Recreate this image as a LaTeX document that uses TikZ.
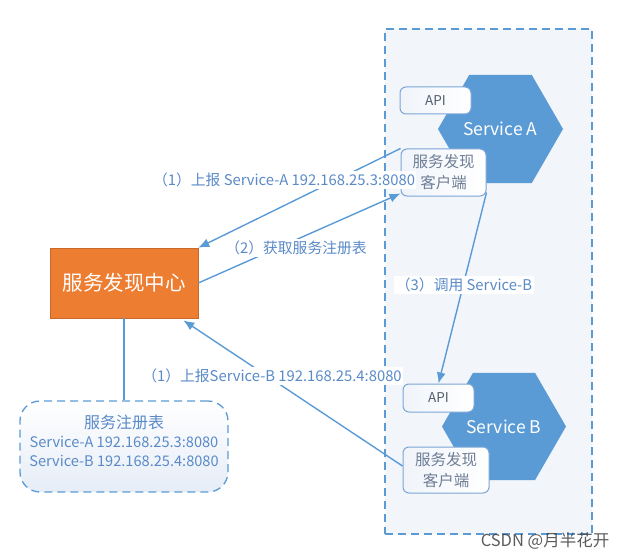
\documentclass[tikz,border=0pt]{standalone}
\usepackage{fontspec}
\setmainfont{Noto Sans CJK SC}
\usetikzlibrary{shapes.geometric,arrows.meta,calc}
\definecolor{lblue}{HTML}{5B9BD5}
\definecolor{ltxt}{HTML}{5A8AC8}
\definecolor{orng}{HTML}{ED7D31}
\definecolor{bbord}{HTML}{7BA6D6}
\definecolor{gtxt}{HTML}{6E7E96}
\definecolor{boxbot}{HTML}{E6EDF7}
\definecolor{contfill}{HTML}{F2F5FA}
\tikzset{
  conn/.style={draw=lblue, line width=1.4pt, -{Latex[length=11pt,width=9pt]}},
  plainconn/.style={draw=lblue, line width=1.4pt},
  lbl/.style={fill=white, inner sep=1.5pt, text=ltxt, font=\fontsize{14.8}{17}\selectfont},
  softbox/.style={draw=bbord, line width=1pt, rounded corners=6pt, left color=boxbot!60!white, right color=white, align=center},
  hexa/.style={regular polygon, regular polygon sides=6, fill=lblue, inner sep=0pt, text=white, font=\fontsize{17.5}{20}\selectfont},
  apibox/.style={softbox, minimum width=71pt, text=gtxt!75!black, font=\fontsize{13.5}{16}\selectfont},
  clibox/.style={softbox, inner sep=1pt, text=gtxt, font=\fontsize{15.5}{21}\selectfont},
  dashframe/.style={draw=lblue, dashed, dash pattern=on 8pt off 5pt, line width=1.3pt, inner sep=0pt},
  regline/.style={text=ltxt, inner sep=0pt, font=\fontsize{14.6}{17}\selectfont},
}
\begin{document}
\begin{tikzpicture}[x=1pt,y=-1pt]
\useasboundingbox (0,0) rectangle (629,559);
% container
\node[dashframe, fill=contfill, minimum width=207pt, minimum height=505pt] (cont) at (488.5,281.5) {};
% services
\node[hexa, minimum size=125pt] (hexA) at (500.5,129) {Service A};
\node[hexa, minimum size=124pt] (hexB) at (504,426.5) {Service B};
\node[apibox, minimum height=27pt] (apiA) at (435.5,100.5) {API};
\node[apibox, minimum height=28pt] (apiB) at (438.5,398) {API};
\node[clibox, minimum width=85pt, minimum height=47pt] (cliA) at (443.5,172.5) {服务发现\\客户端};
\node[clibox, minimum width=86pt, minimum height=46pt] (cliB) at (446,470) {服务发现\\客户端};
% center
\node[fill=orng, draw=orng!85!black, line width=0.6pt, minimum width=148pt, minimum height=70pt, text=white, font=\fontsize{20.5}{24}\selectfont] (center) at (124,283) {服务发现中心};
% registry
\node[dashframe, rounded corners=20pt, top color=white, bottom color=boxbot, minimum width=208pt, minimum height=91pt] (reg) at (124,446.5) {};
\node[regline, font=\fontsize{16}{19}\selectfont] (regt) at (124,422) {服务注册表};
\node[regline] (rega) at (124,441.5) {Service-A 192.168.25.3:8080};
\node[regline] (regb) at (124,461) {Service-B 192.168.25.4:8080};
% connectors
\draw[plainconn] (center.south) -- (reg.north);
\draw[conn] (cliA.north west) -- (center.north east);
\draw[conn] (center.east) -- ($(cliA.south west)+(0,-3)$);
\draw[conn] ($(cliA.south east)+(0,-4)$) -- (apiB.north);
\draw[conn] ($(cliB.west)+(0,-4)$) -- ($(center.south east)+(-15,2)$);
% labels
\node[lbl] (l1) at (284,180) {（1）上报 Service-A 192.168.25.3:8080};
\node[lbl] (l2) at (296,248) {（2）获取服务注册表};
\node[lbl] (l3) at (464,285) {（3）调用 Service-B};
\node[lbl] (l4) at (272,376) {（1）上报Service-B 192.168.25.4:8080};
% watermark
\node[text=black!75, opacity=0.85, font=\fontsize{16.5}{18}\selectfont, inner sep=0pt] (wm) at (545,541) {CSDN @月半花开};
\end{tikzpicture}
\end{document}
